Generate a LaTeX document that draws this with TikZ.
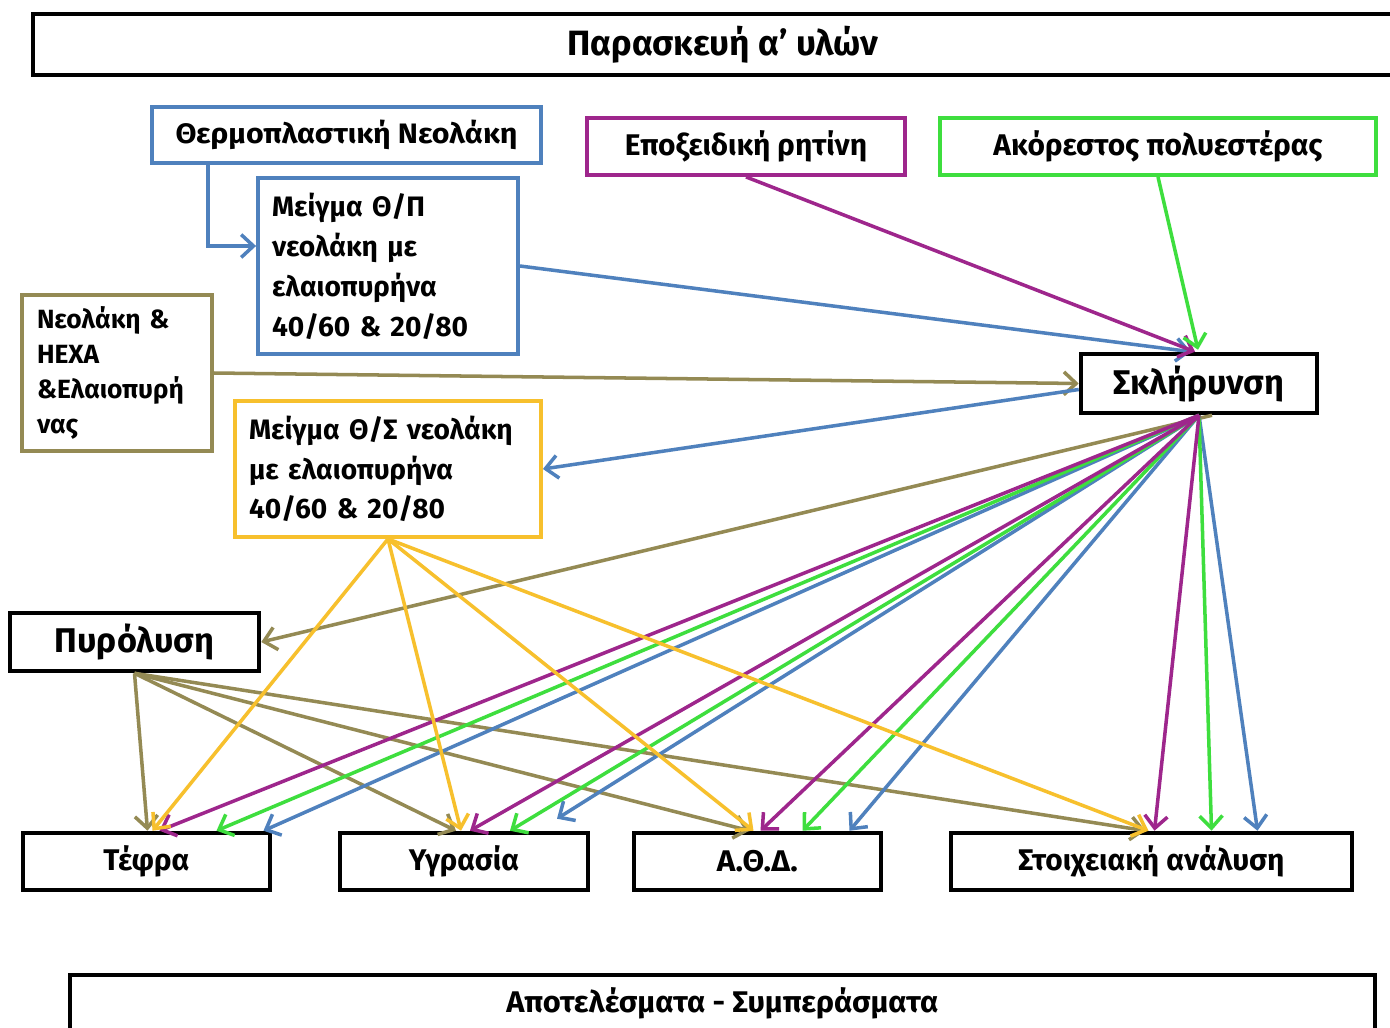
\documentclass[tikz,border=0pt]{standalone}
\usepackage{graphicx}
\usepackage{fontspec}
\setmainfont{Fira Sans}
\usetikzlibrary{arrows.meta,calc}
\definecolor{cblue}{RGB}{79,129,189}
\definecolor{cmag}{RGB}{158,38,140}
\definecolor{cgreen}{RGB}{62,222,62}
\definecolor{colive}{RGB}{148,138,84}
\definecolor{cyel}{RGB}{247,192,45}
\newcommand\pxu{0.02cm}
\newcommand\nar[2]{\scalebox{#1}[1]{#2}}
\tikzset{
  bx/.style={draw, rectangle, inner sep=0pt, line width=2.2pt, text=black},
  blk/.style={bx, draw=black, line width=2.6pt},
  conn/.style={line width=2pt, -{Straight Barb[length=7pt,width=13pt]}},
  fbold/.style={font=\fontsize{#1}{#1}\selectfont\bfseries},
}
\begin{document}
\begin{tikzpicture}[x=0.02cm,y=-0.02cm]
\useasboundingbox (0,0) rectangle (1390,1028);
\clip (0,0) rectangle (1390,1028);
\fill[white] (0,0) rectangle (1390,1028);

% boxes
\node[blk, minimum width={1380*\pxu}, minimum height={61*\pxu}, fbold=20] (title) at (723,44.5) {\nar{1.0}{Παρασκευή α’ υλών}};
\node[bx, draw=cblue, minimum width={389*\pxu}, minimum height={56*\pxu}, fbold=16] (thermo) at (346.5,135) {\nar{1.08}{Θερμοπλαστική Νεολάκη}};
\node[bx, draw=cblue, minimum width={260*\pxu}, minimum height={176*\pxu}, text width={232*\pxu}, align=left, font=\fontsize{16}{22.7}\selectfont\bfseries] (thmix) at (388,266) {Μείγμα Θ/Π\\νεολάκη με\\ελαιοπυρήνα\\40/60 \& 20/80};
\node[bx, draw=cmag, minimum width={318*\pxu}, minimum height={57*\pxu}, fbold=17] (epoxy) at (746,146.5) {\nar{1.0}{Εποξειδική ρητίνη}};
\node[bx, draw=cgreen, minimum width={436*\pxu}, minimum height={57*\pxu}, fbold=17] (poly) at (1158,146.5) {\nar{1.0}{Ακόρεστος πολυεστέρας}};
\node[bx, draw=colive, minimum width={190*\pxu}, minimum height={156*\pxu}, text width={160*\pxu}, align=left, font=\fontsize{15}{19.8}\selectfont\bfseries] (neo) at (117,373) {Νεολάκη \&\\HEXA\\\&Ελαιοπυρή\\νας};
\node[blk, minimum width={236*\pxu}, minimum height={59*\pxu}, fbold=19.5] (hard) at (1199,383.5) {Σκλήρυνση};
\node[bx, draw=cyel, minimum width={306*\pxu}, minimum height={136*\pxu}, text width={278*\pxu}, align=left, font=\fontsize{16}{22.4}\selectfont\bfseries] (thsmix) at (388,469) {Μείγμα Θ/Σ νεολάκη\\με ελαιοπυρήνα\\40/60 \& 20/80};
\node[blk, minimum width={249*\pxu}, minimum height={58*\pxu}, fbold=19.5] (pyro) at (134.5,642) {Πυρόλυση};
\node[blk, minimum width={247*\pxu}, minimum height={57*\pxu}, fbold=17] (ash) at (146.5,861.5) {Τέφρα};
\node[blk, minimum width={248*\pxu}, minimum height={57*\pxu}, fbold=17] (moist) at (464,861.5) {Υγρασία};
\node[blk, minimum width={247*\pxu}, minimum height={57*\pxu}, fbold=17] (tga) at (757.5,861.5) {\nar{1.05}{Α.Θ.Δ.}};
\node[blk, minimum width={401*\pxu}, minimum height={57*\pxu}, fbold=17] (elem) at (1151.5,861.5) {\nar{1.0}{Στοιχειακή ανάλυση}};
\node[blk, minimum width={1305*\pxu}, minimum height={56*\pxu}, fbold=17] (res) at (722.5,1003) {\nar{1.03}{Αποτελέσματα - Συμπεράσματα}};

% connectors into hardening
\draw[conn, cblue] ($(thermo.south west)+(58,0)$) |- ($(thmix.west)+(0,-20)$);
\draw[conn, cblue] (thmix.east) -- ($(hard.north)+(-8,0)$);
\draw[conn, cmag] (epoxy.south) -- ($(hard.north)+(-4,0)$);
\draw[conn, cgreen] (poly.south) -- ($(hard.north)+(-1,-2)$);
\draw[conn, colive] (neo.east) -- (hard.west);
\draw[conn, cblue] ($(hard.west)+(0,6)$) -- (thsmix.east);
\draw[conn, colive] ($(hard.south)+(13,0)$) -- (pyro.east);

% pyrolysis outputs
\draw[conn, colive] (pyro.south) -- ($(ash.north)+(1,0)$);
\draw[conn, colive] (pyro.south) -- ($(moist.north)+(-8,0)$);
\draw[conn, colive] (pyro.south) -- ($(tga.north)+(-8,0)$);
\draw[conn, colive] (pyro.south) -- ($(elem.north)+(-6,0)$);

% hardening outputs
\draw[conn, cblue] (hard.south) -- ($(ash.north)+(117,0)$);
\draw[conn, cblue] (hard.south) -- ($(moist.north)+(93,-12)$);
\draw[conn, cblue] (hard.south) -- ($(tga.north)+(92,0)$);
\draw[conn, cblue] (hard.south) -- ($(elem.north)+(106,0)$);
\draw[conn, cgreen] (hard.south) -- ($(ash.north)+(70,0)$);
\draw[conn, cgreen] (hard.south) -- ($(moist.north)+(46,0)$);
\draw[conn, cgreen] (hard.south) -- ($(tga.north)+(45,0)$);
\draw[conn, cgreen] (hard.south) -- ($(elem.north)+(60,0)$);
\draw[conn, cmag] (hard.south) -- ($(ash.north)+(13,0)$);
\draw[conn, cmag] (hard.south) -- ($(moist.north)+(6,0)$);
\draw[conn, cmag] (hard.south) -- ($(tga.north)+(3,0)$);
\draw[conn, cmag] (hard.south) -- ($(elem.north)+(3,0)$);

% Theta/Sigma mix outputs
\draw[conn, cyel] (thsmix.south) -- ($(ash.north)+(6,0)$);
\draw[conn, cyel] (thsmix.south) -- ($(moist.north)+(-3,0)$);
\draw[conn, cyel] (thsmix.south) -- ($(tga.north)+(-4,0)$);
\draw[conn, cyel] (thsmix.south) -- ($(elem.north)+(-3,0)$);
\end{tikzpicture}
\end{document}
